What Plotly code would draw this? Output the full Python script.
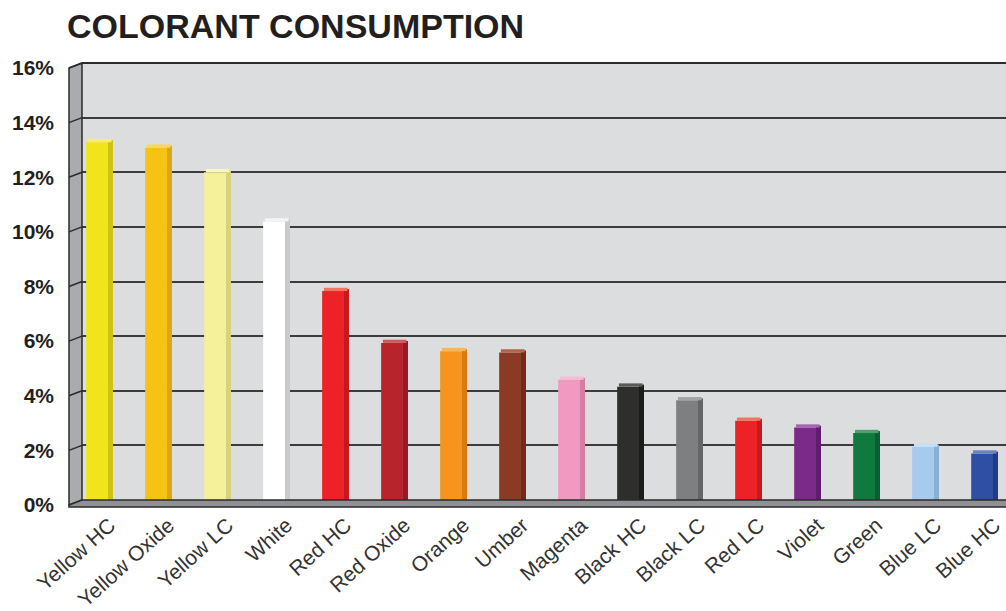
import plotly.graph_objects as go

categories = ["Yellow HC", "Yellow Oxide", "Yellow LC", "White", "Red HC", "Red Oxide",
              "Orange", "Umber", "Magenta", "Black HC", "Black LC", "Red LC",
              "Violet", "Green", "Blue LC", "Blue HC"]
values = [13.1, 12.9, 12.0, 10.2, 7.65, 5.75, 5.45, 5.4, 4.4, 4.15, 3.65, 2.9,
          2.65, 2.45, 1.95, 1.7]
face_colors = ["#f0e51a", "#f6c315", "#f5f09a", "#ffffff", "#ec2227", "#b8242c",
               "#f7941d", "#8b3a24", "#f199c0", "#2e2e2c", "#7e7f80", "#ec2227",
               "#7b2a8a", "#0f7a3e", "#a6cbee", "#2e4fa3"]
side_colors = ["#cfc312", "#dca712", "#d9d27c", "#c9cacc", "#c41a1f", "#941c22",
               "#d77a12", "#6e2c1a", "#d47ea4", "#1c1c1b", "#646566", "#c41a1f",
               "#5f1f6c", "#0a5e2f", "#88afd4", "#213c82"]
top_colors = ["#f7ef6a", "#f9d65e", "#f9f6c4", "#f4f4f4", "#f2735f", "#cf5a5e",
              "#f9b45e", "#b0654d", "#f6bcd6", "#5a5a58", "#a3a4a5", "#f2735f",
              "#a566b1", "#4f9f6f", "#c8def4", "#6b84c1"]
y_ticks = [0, 2, 4, 6, 8, 10, 12, 14, 16]
y_tick_text = ["0%", "2%", "4%", "6%", "8%", "10%", "12%", "14%", "16%"]

cap_h = 0.12
face_w, face_off = 0.37, -0.23
side_w, side_off = 0.085, 0.14

fig = go.Figure()
fig.add_trace(go.Bar(x=categories, y=[v + cap_h * 0.6 for v in values],
                     width=side_w, offset=side_off,
                     marker=dict(color=side_colors, line=dict(width=0)), hoverinfo="skip"))
fig.add_trace(go.Bar(x=categories, y=values, width=face_w, offset=face_off,
                     marker=dict(color=face_colors, line=dict(width=0))))
fig.add_trace(go.Bar(x=categories, y=[cap_h] * len(values), base=values,
                     width=face_w + 0.03, offset=face_off + 0.03,
                     marker=dict(color=top_colors, line=dict(width=0)), hoverinfo="skip"))

dx = 13 / 924
dy = 5 / 437
dark = "#2b2b2b"
shapes = []
# left wall
shapes.append(dict(type="path", xref="paper", yref="paper",
                   path=f"M 0 1 L {-dx} {1 - dy} L {-dx} {-dy} L 0 0 Z",
                   fillcolor="#a9abae", line=dict(color=dark, width=1.5), layer="above"))
# floor
shapes.append(dict(type="path", xref="paper", yref="paper",
                   path=f"M 0 0 L 1.01 0 L 1.01 {-dy * 1.4} L {-dx} {-dy * 1.4} L {-dx} {-dy} Z",
                   fillcolor="#8e9093", line=dict(color=dark, width=1.5), layer="above"))
# diagonal ticks on the wall
for t in y_ticks[1:-1]:
    yp = t / 16
    shapes.append(dict(type="line", xref="paper", yref="paper",
                       x0=-dx, y0=yp - dy, x1=0, y1=yp,
                       line=dict(color=dark, width=1.5), layer="above"))
# top edge of the back wall
shapes.append(dict(type="line", xref="paper", yref="paper", x0=0, y0=1, x1=1.01, y1=1,
                   line=dict(color=dark, width=2), layer="above"))
shapes.append(dict(type="line", xref="paper", yref="paper", x0=-dx, y0=1 - dy, x1=0, y1=1,
                   line=dict(color=dark, width=1.5), layer="above"))

fig.update_layout(
    width=1006, height=611,
    margin=dict(l=82, r=0, t=63, b=111, autoexpand=False),
    paper_bgcolor="white",
    plot_bgcolor="#dcdddf",
    barmode="overlay",
    showlegend=False,
    shapes=shapes,
    title=dict(text="<b>COLORANT CONSUMPTION</b>", xref="container", yref="container",
               x=67 / 1006, xanchor="left", y=1 - 26 / 611, yanchor="middle",
               font=dict(family="Liberation Sans, Arial, sans-serif", size=34, color="#231f20")),
    font=dict(family="Liberation Sans, Arial, sans-serif"),
)
fig.update_xaxes(range=[-0.3, 15.36], tickangle=-42, showgrid=False, showline=False,
                 zeroline=False, ticks="", ticklabelstandoff=8, ticklabelshift=10,
                 automargin=False,
                 tickfont=dict(size=21, color="#333333"))
fig.update_yaxes(range=[0, 16], tickvals=y_ticks, ticktext=y_tick_text,
                 showgrid=True, gridcolor="#3c3c3c", gridwidth=1.6, zeroline=False,
                 showline=False, ticks="", ticklabelstandoff=27, ticklabelshift=5,
                 automargin=False,
                 tickfont=dict(size=21, color="#231f20", family="Liberation Sans, Arial, sans-serif",
                               weight="bold"))

fig.write_html("out.html")
